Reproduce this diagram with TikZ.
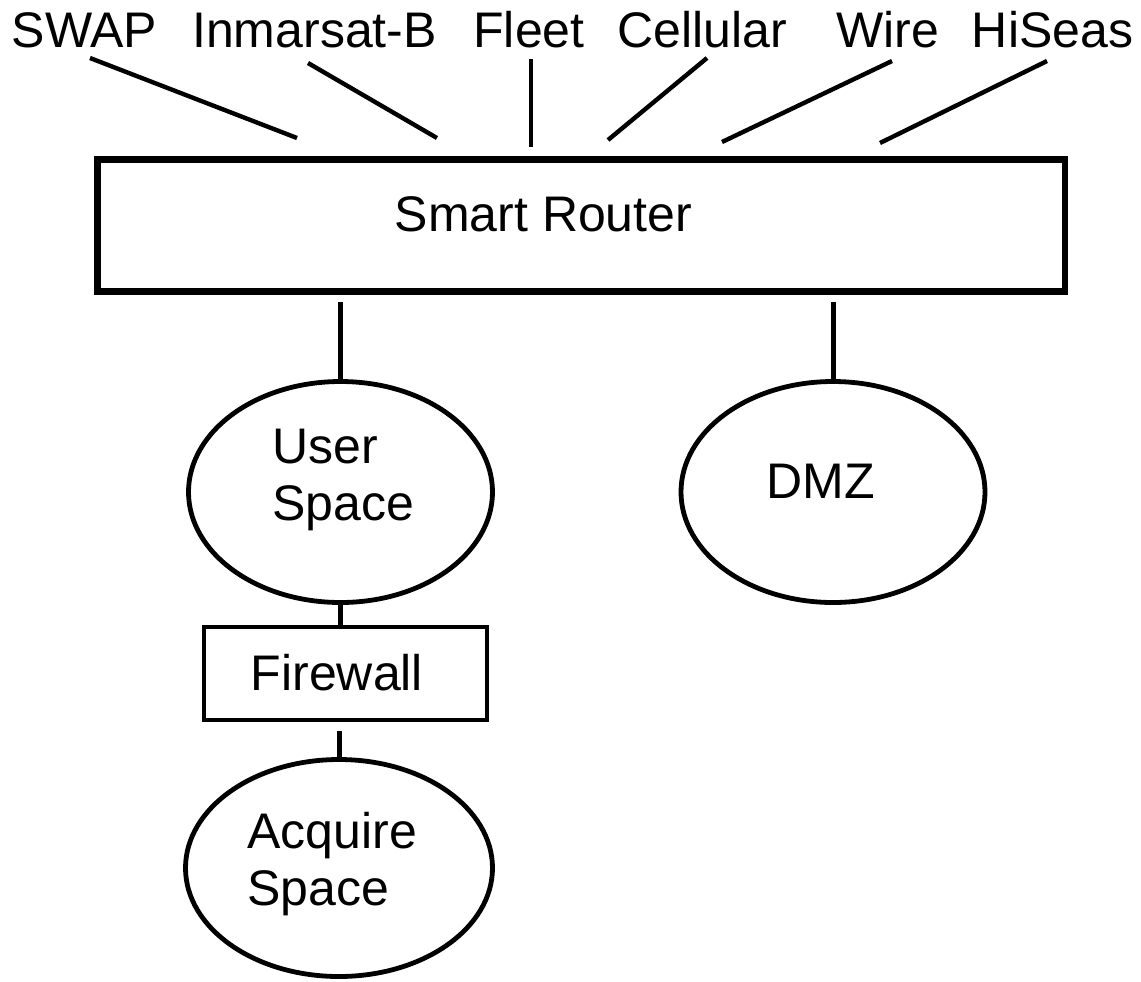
\documentclass[tikz,border=0pt]{standalone}
\usepackage{fontspec}
\setmainfont{Liberation Sans}
\usetikzlibrary{shapes.geometric}

\begin{document}
\begin{tikzpicture}[x=0.5pt,y=-0.5pt]
  \tikzset{txt/.style={inner sep=0pt,font=\fontsize{25}{28.5}\selectfont}}
  \tikzset{rect/.style={draw,rectangle,inner sep=0pt}}
  \tikzset{oval/.style={draw,ellipse,inner sep=0pt,line width=2.4pt,minimum width=152pt,minimum height=110.5pt}}
  \tikzset{link/.style={draw,line width=2.5pt}}
  \tikzset{feed/.style={draw,line width=2.2pt}}

  \useasboundingbox (0,0) rectangle (1141,981);

  \def\labely{47}

  % links on top
  \node[txt,anchor=base] (swap) at (84.5,\labely) {SWAP};
  \node[txt,anchor=base] (inmarsat) at (314.5,\labely) {Inmarsat-B};
  \node[txt,anchor=base] (fleet) at (529,\labely) {Fleet};
  \node[txt,anchor=base] (cellular) at (702.5,\labely) {Cellular};
  \node[txt,anchor=base] (wire) at (887.5,\labely) {Wire};
  \node[txt,anchor=base] (hiseas) at (1052.5,\labely) {HiSeas};

  \coordinate (swaptop) at (90,58);       \coordinate (swapend) at (297,138);
  \coordinate (inmarsattop) at (308,63);  \coordinate (inmarsatend) at (437,138);
  \coordinate (fleettop) at (531,59);     \coordinate (fleetend) at (531,147);
  \coordinate (cellulartop) at (707,58);  \coordinate (cellularend) at (608,140);
  \coordinate (wiretop) at (892,61);      \coordinate (wireend) at (722,142);
  \coordinate (hiseastop) at (1047,61);   \coordinate (hiseasend) at (880,143);

  \draw[feed] (swaptop) -- (swapend);
  \draw[feed] (inmarsattop) -- (inmarsatend);
  \draw[feed] (fleettop) -- (fleetend);
  \draw[feed] (cellulartop) -- (cellularend);
  \draw[feed] (wiretop) -- (wireend);
  \draw[feed] (hiseastop) -- (hiseasend);

  % router
  \node[rect,line width=3.25pt,minimum width=483.75pt,minimum height=66pt] (router) at (581.25,225.5) {};
  \node[txt,anchor=base] (routertext) at (543.5,231) {Smart Router};

  % spaces
  \node[oval] (userspace) at (340.5,492) {};
  \node[txt,anchor=north west,align=left] (usertext) at (272,429) {User\\Space};
  \node[oval] (dmz) at (833,492) {};
  \node[txt,anchor=base] (dmztext) at (821,498) {DMZ};

  \node[rect,line width=2.4pt,minimum width=141.5pt,minimum height=46.5pt] (firewall) at (345.5,673.5) {};
  \node[txt,anchor=base] (firewalltext) at (337,690) {Firewall};

  \node[oval,minimum width=153.5pt,minimum height=108.5pt] (acquire) at (339,868) {};
  \node[txt,anchor=north west,align=left] (acquiretext) at (247,812) {Acquire\\Space};

  \coordinate (userup) at (340.5,302);
  \coordinate (dmzup) at (833,302);
  \coordinate (firewalldown) at (339,731);

  \draw[link] (userup) -- (userspace);
  \draw[link] (dmzup) -- (dmz);
  \draw[link] (userspace.south) -- (userspace.south |- firewall.north);
  \draw[link] (firewalldown) -- (acquire);

\end{tikzpicture}
\end{document}
